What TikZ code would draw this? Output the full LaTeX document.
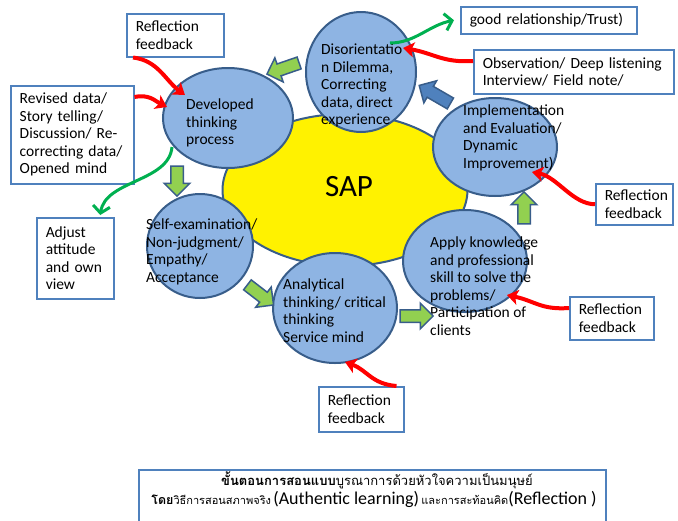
\documentclass[tikz,border=0pt]{standalone}
\usepackage{fontspec}
\setmainfont{Carlito}
\newfontfamily\thaifont[Script=Thai]{Loma}
\usetikzlibrary{shapes.geometric,shapes.arrows,arrows.meta,calc}

\definecolor{ellfill}{RGB}{142,180,227}
\definecolor{elldraw}{RGB}{56,93,138}
\definecolor{boxdraw}{RGB}{79,129,189}
\definecolor{arrgreen}{RGB}{146,208,80}
\definecolor{arrblue}{RGB}{79,129,189}
\definecolor{linkred}{RGB}{255,0,0}
\definecolor{linkgreen}{RGB}{0,176,80}

\tikzset{
  blob/.style={ellipse, draw=elldraw, fill=ellfill, line width=2pt, inner sep=0pt},
  core/.style={ellipse, draw=elldraw, fill=yellow, line width=2pt, inner sep=0pt},
  etext/.style={anchor=north west, inner sep=0pt, align=left,
    font=\fontsize{15.5}{17.5}\selectfont},
  tbox/.style={draw=boxdraw, line width=1.5pt, fill=white, anchor=north west,
    inner xsep=9pt, inner ysep=0pt, align=left,
    font=\fontsize{15.5}{17.5}\selectfont},
  blockarrow/.style={single arrow, draw=elldraw, fill=arrgreen, line width=1.5pt,
    inner sep=5.5pt, single arrow head extend=6.5pt, single arrow head indent=0pt},
  redlink/.style={draw=linkred, line width=4pt,
    -{Stealth[length=11pt,width=15pt,inset=2.5pt]}},
  greenlink/.style={draw=linkgreen, line width=3pt,
    -{Straight Barb[length=7pt,width=17pt]}},
}

\begin{document}
\begin{tikzpicture}[x=1pt,y=-1pt]
\clip (0,0) rectangle (678,520);
\fill[white] (0,0) rectangle (678,520);

% central core
\node[core, minimum width=245, minimum height=152] (sap) at (345,190) {};
\node[font=\fontsize{31}{37}\selectfont, inner sep=0pt] (saptext) at (349,187) {SAP};

% cycle stages
\node[blob, minimum width=110, minimum height=120] (dis) at (361,72) {};
\node[blob, minimum width=130, minimum height=100] (dev) at (228,118) {};
\node[blob, minimum width=106, minimum height=104] (self) at (200,246) {};
\node[blob, minimum width=124, minimum height=110] (ana) at (335,308) {};
\node[blob, minimum width=124, minimum height=102] (app) at (465,261) {};
\node[blob, minimum width=124, minimum height=98] (imp) at (495,147) {};

\node[etext] (distext) at (321,44) {Disorientatio\\n Dilemma,\\Correcting\\data, direct\\experience};
\node[etext] (devtext) at (186,99) {Developed\\thinking\\process};
\node[etext] (selftext) at (146,219) {Self-examination/\\Non-judgment/\\Empathy/\\Acceptance};
\node[etext] (anatext) at (283,279) {Analytical\\thinking/ critical\\thinking\\Service mind};
\node[etext] (apptext) at (430,237) {Apply knowledge\\and professional\\skill to solve the\\problems/\\Participation of\\clients};
\node[etext] (imptext) at (463,105) {Implementation\\and Evaluation/\\Dynamic\\Improvement)};

% side notes
\node[tbox, text width=79, minimum height=43] (rf1) at (126,13) {Reflection\\feedback};
\node[tbox, text width=105, minimum height=98] (rev) at (10,85) {Revised data/\\Story telling/\\Discussion/ Re-\\correcting data/\\Opened mind};
\node[tbox, text width=59, minimum height=81] (adj) at (36,217) {Adjust\\attitude\\and own\\view};
\node[tbox, text width=158, minimum height=27] (good) at (460,6) {good relationship/Trust)};
\node[tbox, text width=182, minimum height=44] (obs) at (473,49) {Observation/ Deep listening\\Interview/ Field note/};
\node[tbox, text width=59, minimum height=41] (rfr1) at (595,183) {Reflection\\feedback};
\node[tbox, text width=66, minimum height=43] (rfr2) at (569,296) {Reflection\\feedback};
\node[tbox, text width=67, minimum height=45] (rfb) at (318,386) {Reflection\\feedback};

% step arrows around the cycle
\node[blockarrow, minimum height=34, rotate=199] (ba1) at (286,67.5) {};
\node[blockarrow, minimum height=30, rotate=-90] (ba2) at (177,178) {};
\node[blockarrow, minimum height=33, rotate=-37.6] (ba3) at (258,293) {};
\node[blockarrow, minimum height=33, rotate=0] (ba4) at (413.5,316) {};
\node[blockarrow, minimum height=32, rotate=90] (ba5) at (524,211) {};
\node[blockarrow, fill=arrblue, minimum height=36, rotate=150] (ba6) at (437.5,96) {};

% feedback links
\draw[redlink] ($(rf1.south west)+(7,0)$) .. controls +(25,3) and +(-20,-15) .. ($(dev.center)+(-43,-23)$);
\draw[redlink] ($(rev.north east)+(0,12)$) .. controls +(15,-3) and +(-12,-6) .. ($(dev.center)+(-61,-11)$);
\draw[redlink] ($(obs.north west)+(0,12)$) .. controls +(-30,2) and +(30,5) .. ($(dis.center)+(42,-24)$);
\draw[redlink] (rfr1.west) .. controls +(-22,0) and +(25,5) .. ($(imp.center)+(37,25)$);
\draw[redlink] ($(rfr2.north west)+(0,12)$) .. controls +(-28,2) and +(28,6) .. ($(app.center)+(42,34)$);
\draw[redlink] ($(rfb.north east)+(-8,0)$) .. controls +(-25,-2) and +(22,8) .. ($(ana.center)+(10,54)$);

% outcome links
\draw[greenlink] ($(dis.center)+(29,-29)$) .. controls +(25,0) and +(-25,5) .. ($(good.west)+(-6,0)$);
\draw[greenlink] ($(dev.center)+(-56,29)$) .. controls +(-3,35) and +(5,-35) .. ($(adj.north)+(25,-2)$);

% caption
\node[draw=boxdraw, line width=1.5pt, anchor=north west, minimum width=467,
  minimum height=60, inner sep=0pt] (caption) at (138,469) {};
\node[anchor=base, inner sep=0pt] (cap1) at (377,485)
  {\thaifont\fontsize{13}{15}\selectfont{\bfseries ขั้นตอนการสอนแบบ}บูรณาการด้วยหัวใจความเป็นมนุษย์};
\node[anchor=base, inner sep=0pt] (cap2) at (374,504)
  {{\thaifont{\fontsize{12.5}{15}\selectfont\bfseries โดย}{\fontsize{11}{15}\selectfont วิธีการสอนสภาพจริง}} {\fontsize{18}{20}\selectfont (Authentic learning)} {\thaifont\fontsize{11}{15}\selectfont และการสะท้อนคิด}{\fontsize{18}{20}\selectfont(Reflection )}};
\end{tikzpicture}
\end{document}
